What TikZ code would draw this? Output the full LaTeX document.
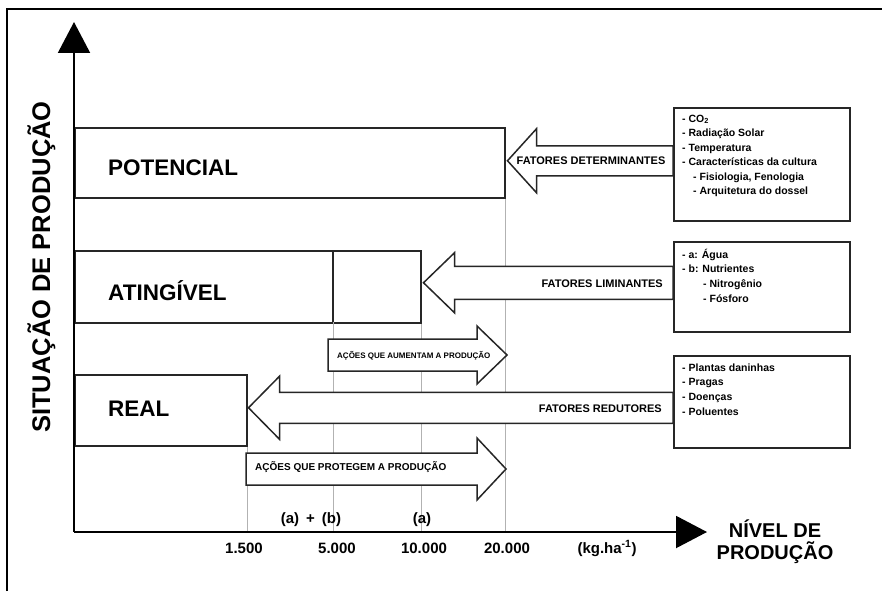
\documentclass[tikz,border=0pt]{standalone}
\usepackage{fontspec}
\setmainfont{Liberation Sans}
\usetikzlibrary{arrows.meta,calc}
\newcommand{\hollowarrow}[5]{%
  \draw[harrow] let \p1=(#1), \p2=(#2) in
    (\p1) -- (\x1+#5,\y1+#4) -- (\x1+#5,\y1+#3) -- (\x2,\y1+#3)
    -- (\x2,\y1-#3) -- (\x1+#5,\y1-#3) -- (\x1+#5,\y1-#4) -- cycle;}
\begin{document}
\begin{tikzpicture}[x=1pt,y=-1pt,
  frameline/.style={line width=2pt, black},
  axisline/.style={line width=2pt, black, -{Triangle[length=31pt,width=32pt]}},
  levelbox/.style={draw=black!85, line width=1.5pt, inner sep=0pt, anchor=north west},
  factorbox/.style={draw=black!85, line width=1.6pt, inner sep=0pt, anchor=north west, minimum width=176pt},
  leveltext/.style={font=\bfseries\fontsize{22.5}{24}\selectfont, anchor=west, inner sep=0pt, text height=16pt, text depth=0pt},
  harrow/.style={draw=black!85, line width=1.5pt, fill=white, line join=miter},
  arrowtext/.style={font=\bfseries\fontsize{11}{12}\selectfont, inner sep=0pt, text height=8pt, text depth=0pt},
  itemtext/.style={font=\bfseries\fontsize{10.5}{12}\selectfont, inner sep=0pt, anchor=base west},
  ticktext/.style={font=\bfseries\fontsize{15}{17}\selectfont, inner sep=0pt, anchor=base},
  guide/.style={draw=black!30, line width=0.8pt},
  axistitle/.style={font=\bfseries\fontsize{20}{22}\selectfont, inner sep=0pt, anchor=base}
]
\useasboundingbox (0,0) rectangle (882,591);
\draw[frameline] (7,591) -- (7,9) -- (882,9);

\coordinate (O) at (74,532);
\coordinate (ytop) at (74,22);
\coordinate (xend) at (707,532);

% level boxes
\node[levelbox, minimum width=430pt, minimum height=70pt] (pot) at (74,127) {};
\node[levelbox, minimum width=346pt, minimum height=72pt] (ati) at (74,250) {};
\node[levelbox, minimum width=172pt, minimum height=71pt] (real) at (74,374) {};
\coordinate (m5top) at (333,250);
\coordinate (m5) at (333,322);
\draw[draw=black!85, line width=1.5pt] (m5top) -- (m5);

% guide lines
\draw[guide] (real.south east) -- (real.south east |- O);
\draw[guide] (m5) -- (m5 |- O);
\draw[guide] (ati.south east) -- (ati.south east |- O);
\draw[guide] (pot.south east) -- (pot.south east |- O);

% level labels
\node[leveltext] (lp) at (108,167) {POTENCIAL};
\node[leveltext] (la) at (108,292) {ATINGÍVEL};
\node[leveltext] (lr) at (108,408) {REAL};

% factor boxes positions
\coordinate (f1c) at (673,107);
\coordinate (f2c) at (673,241);
\coordinate (f3c) at (673,355);

% hollow arrows
\coordinate (tipA) at ($(pot.east)+(2,-2)$);
\coordinate (tipB) at ($(ati.east)+(2,-4)$);
\coordinate (tipC) at ($(real.east)+(1,-2.5)$);
\coordinate (tailD) at (328,355);
\coordinate (tipD) at (507,355);
\coordinate (tailE) at (246,469);
\coordinate (tipE) at (506,469);

\hollowarrow{tipA}{f1c}{15pt}{32pt}{29pt}
\hollowarrow{tipB}{f2c}{16.5pt}{30pt}{31pt}
\hollowarrow{tipC}{f3c}{15.5pt}{31.5pt}{31pt}
\hollowarrow{tipD}{tailD}{16pt}{29pt}{-30pt}
\hollowarrow{tipE}{tailE}{16pt}{31pt}{-29pt}

\node[arrowtext] (tA) at (591,160) {FATORES DETERMINANTES};
\node[arrowtext, anchor=east] (tB) at (663,283) {FATORES LIMINANTES};
\node[arrowtext, anchor=east] (tC) at (662,408) {FATORES REDUTORES};
\node[arrowtext, font=\bfseries\fontsize{8}{9}\selectfont, text height=6pt, anchor=west] (tD) at (337,355) {AÇÕES QUE AUMENTAM A PRODUÇÃO};
\node[arrowtext, font=\bfseries\fontsize{10}{11}\selectfont, text height=7pt, anchor=west] (tE) at (255,467) {AÇÕES QUE PROTEGEM A PRODUÇÃO};

% factor boxes
\node[factorbox, minimum height=113pt] (f1) at (f1c) {};
\node[factorbox, minimum height=90pt] (f2) at (f2c) {};
\node[factorbox, minimum height=92pt] (f3) at (f3c) {};

\foreach \t [count=\i] in {{- CO\textsubscript{2}}, {- Radiação Solar}, {- Temperatura}, {- Características da cultura}, {\hspace*{11pt}- Fisiologia, Fenologia}, {\hspace*{11pt}- Arquitetura do dossel}}
  \node[itemtext] (fa\i) at ($(f1.north west)+(9,15+14.5*\i-14.5)$) {\t};
\foreach \t [count=\i] in {{- a: Água}, {- b: Nutrientes}, {\hspace*{21pt}- Nitrogênio}, {\hspace*{21pt}- Fósforo}}
  \node[itemtext] (fb\i) at ($(f2.north west)+(9,17+14.7*\i-14.7)$) {\t};
\foreach \t [count=\i] in {{- Plantas daninhas}, {- Pragas}, {- Doenças}, {- Poluentes}}
  \node[itemtext] (fc\i) at ($(f3.north west)+(9,16+14.7*\i-14.7)$) {\t};

% axes
\draw[axisline] (O) -- (ytop);
\draw[axisline] (O) -- (xend);

% tick labels
\node[ticktext] (k1) at (244,553) {1.500};
\node[ticktext] (k2) at (337,553) {5.000};
\node[ticktext] (k3) at (424,553) {10.000};
\node[ticktext] (k4) at (507,553) {20.000};
\node[ticktext] (k5) at (607,553) {(kg.ha\textsuperscript{-1})};
\node[ticktext] (ab) at (311,523) {(a)\hspace{7pt}+\hspace{7pt}(b)};
\node[ticktext] (aa) at (422,523) {(a)};

% axis titles
\node[axistitle] (nv1) at (775,537) {NÍVEL DE};
\node[axistitle] (nv2) at (775,559) {PRODUÇÃO};
\node[axistitle, font=\bfseries\fontsize{25.5}{27}\selectfont, rotate=90] (sit) at (50,267) {SITUAÇÃO DE PRODUÇÃO};
\end{tikzpicture}
\end{document}
